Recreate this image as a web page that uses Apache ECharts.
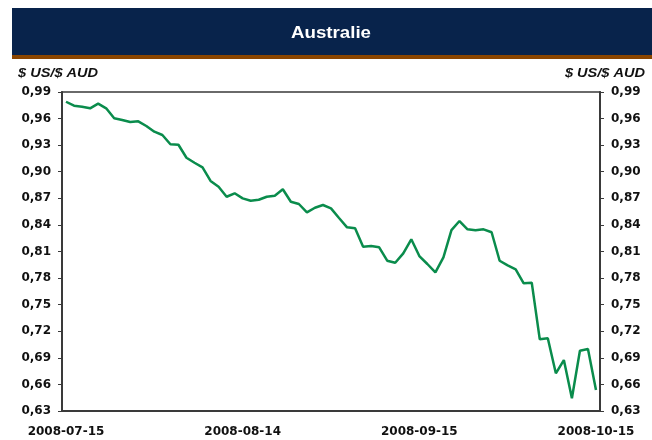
<!DOCTYPE html>
<html>
<head>
<meta charset="utf-8">
<script src="https://cdn.jsdelivr.net/npm/echarts@6/dist/echarts.min.js"></script>
<style>
  html, body { margin: 0; padding: 0; background: #fff; }
  #chart { width: 652px; height: 440px; }
</style>
</head>
<body>
<div id="chart"></div>
<script>
// business days 2008-07-15 .. 2008-10-15
const dates = [
  '2008-07-15', '2008-07-16', '2008-07-17', '2008-07-18', '2008-07-21', '2008-07-22', '2008-07-23',
  '2008-07-24', '2008-07-25', '2008-07-28', '2008-07-29', '2008-07-30', '2008-07-31',
  '2008-08-01', '2008-08-04', '2008-08-05', '2008-08-06', '2008-08-07', '2008-08-08', '2008-08-11',
  '2008-08-12', '2008-08-13', '2008-08-14', '2008-08-15', '2008-08-18', '2008-08-19', '2008-08-20',
  '2008-08-21', '2008-08-22', '2008-08-25', '2008-08-26', '2008-08-27', '2008-08-28', '2008-08-29',
  '2008-09-01', '2008-09-02', '2008-09-03', '2008-09-04', '2008-09-05', '2008-09-08', '2008-09-09',
  '2008-09-10', '2008-09-11', '2008-09-12', '2008-09-15', '2008-09-16', '2008-09-17', '2008-09-18',
  '2008-09-19', '2008-09-22', '2008-09-23', '2008-09-24', '2008-09-25', '2008-09-26', '2008-09-29',
  '2008-09-30', '2008-10-01', '2008-10-02', '2008-10-03', '2008-10-06', '2008-10-07', '2008-10-08',
  '2008-10-09', '2008-10-10', '2008-10-13', '2008-10-14', '2008-10-15'
];

// $ US / $ AUD
const usdPerAud = [
  0.979, 0.9745, 0.9734, 0.9716, 0.9768, 0.9716, 0.9603, 0.9584, 0.9561, 0.9569, 0.9516,
  0.9452, 0.9415, 0.931, 0.9305, 0.9158, 0.9102, 0.905, 0.8896, 0.8831, 0.8718, 0.8757,
  0.870, 0.8673, 0.8684, 0.8718, 0.873, 0.8802, 0.8662, 0.8636, 0.8542, 0.8594,
  0.8625, 0.8587, 0.8478, 0.8373, 0.8362, 0.8154, 0.8162, 0.8147, 0.7996, 0.7973, 0.8079,
  0.8238, 0.8049, 0.7959, 0.7865, 0.8034, 0.8342, 0.8444, 0.835, 0.8339, 0.835, 0.8317,
  0.7996, 0.7944, 0.7899, 0.7741, 0.7748, 0.7109, 0.712, 0.6725, 0.6875, 0.6443, 0.698,
  0.6999, 0.6537
];

const yMin = 0.63;
const yMax = 0.99;
const yStep = 0.03;

const chart = echarts.init(document.getElementById('chart'));

const axisColor = '#3a3a3a';
const labelFont = {
  color: '#111',
  fontFamily: '"DejaVu Sans", Arial, sans-serif',
  fontWeight: 'bold',
  fontSize: 12,
};

function fmt(v) {
  return v.toFixed(2).replace('.', ',');
}

const yAxisBase = {
  type: 'value',
  min: yMin,
  max: yMax,
  interval: yStep,
  splitLine: { show: false },
  axisLine: { show: true, lineStyle: { color: axisColor, width: 2 } },
  axisTick: { show: true, length: 4, lineStyle: { color: axisColor, width: 1 } },
  axisLabel: Object.assign({ formatter: fmt, margin: 11 }, labelFont),
};

const option = {
  animation: false,
  backgroundColor: '#fff',
  graphic: [
    {
      type: 'rect',
      shape: { x: 12, y: 8, width: 640, height: 47 },
      style: { fill: '#08234b' },
    },
    {
      type: 'rect',
      shape: { x: 12, y: 55, width: 640, height: 4 },
      style: { fill: '#8a4500' },
    },
    {
      type: 'text',
      x: 331,
      y: 33,
      scaleX: 1.1,
      style: {
        text: 'Australie',
        fill: '#fff',
        font: 'bold 17px Arial, "Liberation Sans", sans-serif',
        align: 'center',
        verticalAlign: 'middle',
      },
    },
    {
      type: 'text',
      x: 18,
      y: 73,
      scaleX: 1.12,
      style: {
        text: '$ US/$ AUD',
        fill: '#111',
        font: 'italic bold 13px Arial, "Liberation Sans", sans-serif',
        align: 'left',
        verticalAlign: 'middle',
      },
    },
    {
      type: 'text',
      x: 645,
      y: 73,
      scaleX: 1.12,
      style: {
        text: '$ US/$ AUD',
        fill: '#111',
        font: 'italic bold 13px Arial, "Liberation Sans", sans-serif',
        align: 'right',
        verticalAlign: 'middle',
      },
    },
  ],
  grid: {
    left: 62,
    right: 52,
    top: 92,
    bottom: 29,
    show: true,
    borderColor: axisColor,
    borderWidth: 1.5,
  },
  xAxis: {
    type: 'category',
    data: dates,
    boundaryGap: true,
    axisLine: { show: true, lineStyle: { color: axisColor, width: 2 } },
    axisTick: { show: false },
    axisLabel: Object.assign({ interval: 21, margin: 15 }, labelFont),
  },
  yAxis: [
    Object.assign({ position: 'left' }, yAxisBase),
    Object.assign({ position: 'right' }, yAxisBase),
  ],
  series: [
    {
      name: '$ US/$ AUD',
      type: 'line',
      data: usdPerAud,
      yAxisIndex: 0,
      symbol: 'none',
      lineStyle: { color: '#0a8c4c', width: 2.5 },
    },
  ],
};

chart.setOption(option);
</script>
</body>
</html>
